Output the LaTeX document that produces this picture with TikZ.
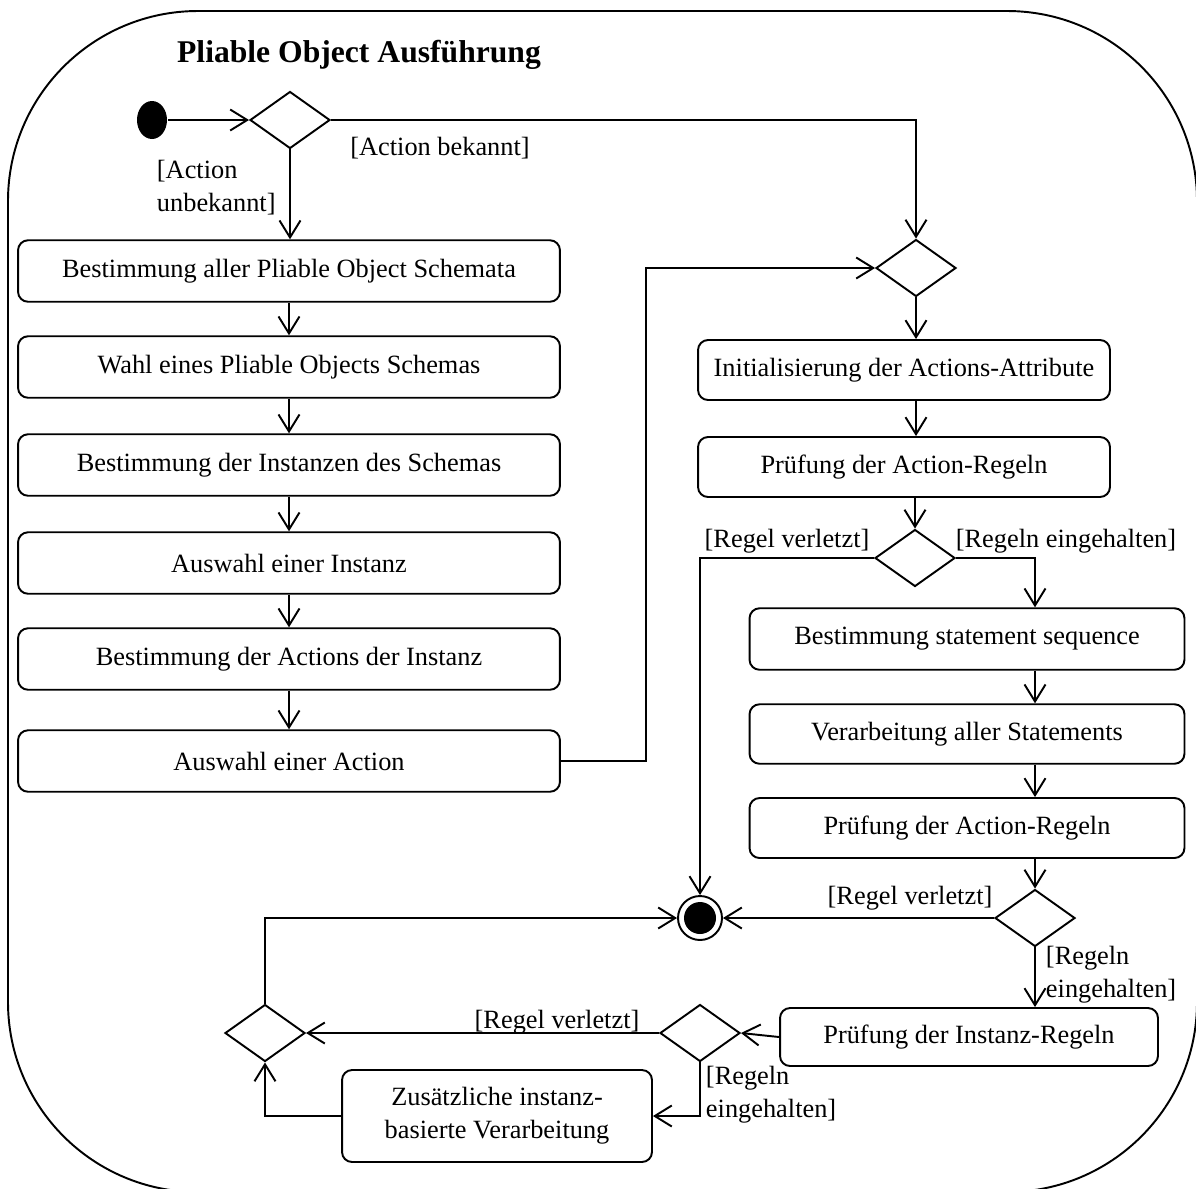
\documentclass[tikz,border=0pt]{standalone}
\usepackage{fontspec}
\setmainfont{Liberation Serif}
\usetikzlibrary{arrows.meta,shapes.geometric}

\begin{document}
\begin{tikzpicture}[x=0.02cm, y=-0.02cm, line width=1.1pt,
        font=\fontsize{15}{18.7}\selectfont,
        flow/.style={-{Straight Barb[length=3.4mm, width=4.2mm, line width=1.1pt]}},
        activity/.style={draw, rounded corners=0.2cm, minimum height=1.23cm, align=center, inner sep=2pt},
        decision/.style={draw, diamond, minimum width=1.6cm, minimum height=1.14cm, inner sep=0pt},
        guard/.style={inner sep=0pt, align=left}]
        \useasboundingbox (0, 0) rectangle (1196, 1188);
        \clip (0, 0) rectangle (1196, 1188);

        % outer frame
        \draw[rounded corners=3.8cm] (8, 11) rectangle (1197, 1192);
        \node[font=\fontsize{18}{22}\selectfont\bfseries] (title) at (359, 55) {Pliable Object Ausführung};

        % start and decisions
        \node[ellipse, fill=black, minimum width=0.6cm, minimum height=0.76cm, inner sep=0pt] (init) at (152, 120) {};
        \node[decision] (d1) at (290, 120) {};
        \node[decision] (d2) at (916, 268) {};
        \node[decision] (d3) at (915, 558) {};
        \node[decision] (d4) at (1035, 918) {};
        \node[decision] (d5) at (700, 1033) {};
        \node[decision] (d6) at (265, 1033) {};

        % final node
        \node[draw, circle, minimum size=0.88cm, inner sep=0pt,
            path picture={\fill (path picture bounding box.center) circle (0.32cm);}] (fin) at (700, 918) {};

        % left column
        \node[activity, minimum width=10.84cm] (b1) at (289, 271) {Bestimmung aller Pliable Object Schemata};
        \node[activity, minimum width=10.84cm] (b2) at (289, 367) {Wahl eines Pliable Objects Schemas};
        \node[activity, minimum width=10.84cm] (b3) at (289, 465) {Bestimmung der Instanzen des Schemas};
        \node[activity, minimum width=10.84cm] (b4) at (289, 563) {Auswahl einer Instanz};
        \node[activity, minimum width=10.84cm] (b5) at (289, 659) {Bestimmung der Actions der Instanz};
        \node[activity, minimum width=10.84cm] (b6) at (289, 761) {Auswahl einer Action};

        % right columns
        \node[activity, minimum width=8.24cm, minimum height=1.2cm] (b7) at (904, 370) {Initialisierung der Actions-Attribute};
        \node[activity, minimum width=8.24cm, minimum height=1.2cm] (b8) at (904, 467) {Prüfung der Action-Regeln};
        \node[activity, minimum width=8.7cm] (b9) at (967, 639) {Bestimmung statement sequence};
        \node[activity, minimum width=8.7cm, minimum height=1.19cm] (b10) at (967, 734) {Verarbeitung aller Statements};
        \node[activity, minimum width=8.7cm, minimum height=1.2cm] (b11) at (967, 828) {Prüfung der Action-Regeln};
        \node[activity, minimum width=7.56cm, minimum height=1.16cm] (b12) at (969, 1037) {Prüfung der Instanz-Regeln};
        \node[activity, minimum width=6.2cm, minimum height=1.84cm] (b13) at (497, 1116) {Zusätzliche instanz-\\basierte Verarbeitung};

        % guards
        \node[guard] (g1) at (440, 148) {[Action bekannt]};
        \node[guard, anchor=west] (g2) at (156, 188) {[Action\\unbekannt]};
        \node[guard] (g3) at (787, 541) {[Regel verletzt]};
        \node[guard] (g4) at (1066, 541) {[Regeln eingehalten]};
        \node[guard] (g5) at (910, 898) {[Regel verletzt]};
        \node[guard, anchor=west] (g6) at (1045, 975) {[Regeln\\eingehalten]};
        \node[guard] (g7) at (557, 1022) {[Regel verletzt]};
        \node[guard, anchor=west] (g8) at (705, 1095) {[Regeln\\eingehalten]};

        % connectors
        \draw[flow] (init) -- (d1.west);
        \draw[flow] (d1.east) -| (d2.north);
        \draw[flow] (d1.south) -- (d1.south |- b1.north);
        \draw[flow] (b1) -- (b2);
        \draw[flow] (b2) -- (b3);
        \draw[flow] (b3) -- (b4);
        \draw[flow] (b4) -- (b5);
        \draw[flow] (b5) -- (b6);
        \draw[flow] (b6.east) -- ++(85, 0) |- (d2.west);
        \draw[flow] (d2.south) -- (d2.south |- b7.north);
        \draw[flow] (b7.south -| d2) -- (b8.north -| d2);
        \draw[flow] (b8.south -| d3) -- (d3.north);
        \draw[flow] (d3.west) -| (fin.north);
        \draw[flow] (d3.east) -| (b9.north -| d4);
        \draw[flow] (b9.south -| d4) -- (b10.north -| d4);
        \draw[flow] (b10.south -| d4) -- (b11.north -| d4);
        \draw[flow] (b11.south -| d4) -- (d4.north);
        \draw[flow] (d4.west) -- (fin.east);
        \draw[flow] (d4.south) -- (d4.south |- b12.north);
        \draw[flow] (b12.west) -- (d5.east);
        \draw[flow] (d5.west) -- (d6.east);
        \draw[flow] (d5.south) |- (b13.east);
        \draw[flow] (b13.west) -| (d6.south);
        \draw[flow] (d6.north) |- (fin.west);
    \end{tikzpicture}
\end{document}
